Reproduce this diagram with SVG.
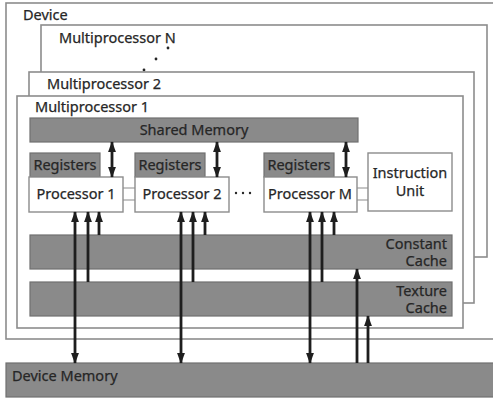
<svg xmlns="http://www.w3.org/2000/svg" width="493" height="399" viewBox="0 0 493 399">
  <style>
    .frame { fill: #ffffff; stroke: #8c8c8c; stroke-width: 1.6; }
    .box { fill: #ffffff; stroke: #8c8c8c; stroke-width: 1.4; }
    .mem { fill: #8a8a8a; stroke: #707070; stroke-width: 1.2; }
    .lbl { font-family: "Noto Sans", "DejaVu Sans", sans-serif; font-size: 14.5px; fill: #262626; stroke: #262626; stroke-width: 0.25; }
    .wire { stroke: #1e1e1e; stroke-width: 2.8; fill: none; }
    .link { stroke: #8c8c8c; stroke-width: 1.2; fill: none; }
  </style>
  <defs>
    <marker id="head" markerWidth="11" markerHeight="15" refX="14" refY="5.5" orient="auto-start-reverse" markerUnits="userSpaceOnUse" viewBox="0 0 15 11">
      <path d="M0,0 L15,5.5 L0,11 z" fill="#1e1e1e"/>
    </marker>
  </defs>

  <rect width="493" height="399" fill="#ffffff"/>

  <!-- device frame -->
  <g id="device">
    <rect class="frame" x="6" y="3" width="495" height="336"/>
    <text class="lbl" x="23" y="20">Device</text>
  </g>

  <!-- stacked multiprocessors -->
  <g id="mp-n">
    <rect class="frame" x="41" y="25" width="446" height="232"/>
    <text class="lbl" x="59" y="43">Multiprocessor N</text>
    <circle cx="168" cy="48" r="1.4" fill="#262626"/>
    <circle cx="156" cy="59" r="1.4" fill="#262626"/>
    <circle cx="144" cy="70" r="1.4" fill="#262626"/>
  </g>
  <g id="mp-2">
    <rect class="frame" x="29" y="72" width="445" height="231"/>
    <text class="lbl" x="47" y="89">Multiprocessor 2</text>
  </g>
  <g id="mp-1">
    <rect class="frame" x="17" y="96" width="446" height="232"/>
    <text class="lbl" x="35" y="112">Multiprocessor 1</text>
  </g>

  <g id="shared-memory">
    <rect class="mem" x="30" y="118" width="328" height="24"/>
    <text class="lbl" x="194" y="135" text-anchor="middle">Shared Memory</text>
  </g>

  <g id="registers-1">
    <rect class="mem" x="30" y="153" width="70" height="24"/>
    <text class="lbl" x="65" y="170" text-anchor="middle">Registers</text>
  </g>
  <g id="processor-1">
    <rect class="box" x="29" y="177" width="94" height="35"/>
    <text class="lbl" x="76" y="199" text-anchor="middle">Processor 1</text>
  </g>

  <g id="registers-2">
    <rect class="mem" x="135" y="153" width="70" height="24"/>
    <text class="lbl" x="170" y="170" text-anchor="middle">Registers</text>
  </g>
  <g id="processor-2">
    <rect class="box" x="135" y="177" width="94" height="35"/>
    <text class="lbl" x="182" y="199" text-anchor="middle">Processor 2</text>
  </g>

  <g id="registers-m">
    <rect class="mem" x="264" y="153" width="70" height="24"/>
    <text class="lbl" x="299" y="170" text-anchor="middle">Registers</text>
  </g>
  <g id="processor-m">
    <rect class="box" x="264" y="177" width="93" height="35"/>
    <text class="lbl" x="310" y="199" text-anchor="middle">Processor M</text>
  </g>

  <g id="instruction-unit">
    <rect class="box" x="368" y="153" width="84" height="58"/>
    <text class="lbl" x="410" y="178" text-anchor="middle">Instruction</text>
    <text class="lbl" x="410" y="196" text-anchor="middle">Unit</text>
  </g>

  <g id="constant-cache">
    <rect class="mem" x="30" y="235" width="422" height="34"/>
    <text class="lbl" x="447" y="249" text-anchor="end">Constant</text>
    <text class="lbl" x="447" y="266" text-anchor="end">Cache</text>
  </g>

  <g id="texture-cache">
    <rect class="mem" x="30" y="282" width="422" height="34"/>
    <text class="lbl" x="447" y="296" text-anchor="end">Texture</text>
    <text class="lbl" x="447" y="313" text-anchor="end">Cache</text>
  </g>

  <g id="device-memory">
    <rect class="mem" x="6" y="363" width="495" height="34"/>
    <text class="lbl" x="12" y="381">Device Memory</text>
  </g>

  <!-- connectors -->
  <g id="connectors">
    <!-- processor bus links -->
    <path class="link" d="M123,188 H135 M123,200 H135"/>
    <path class="link" d="M357,188 H368 M357,200 H368"/>
    <circle cx="236" cy="193" r="1.2" fill="#262626"/>
    <circle cx="243" cy="193" r="1.2" fill="#262626"/>
    <circle cx="250" cy="193" r="1.2" fill="#262626"/>

    <!-- shared memory <-> processors -->
    <line class="wire" x1="112" y1="142" x2="112" y2="177" marker-start="url(#head)" marker-end="url(#head)"/>
    <line class="wire" x1="217" y1="142" x2="217" y2="177" marker-start="url(#head)" marker-end="url(#head)"/>
    <line class="wire" x1="346" y1="142" x2="346" y2="177" marker-start="url(#head)" marker-end="url(#head)"/>

    <!-- device memory <-> processors -->
    <line class="wire" x1="75" y1="363" x2="75" y2="212" marker-start="url(#head)" marker-end="url(#head)"/>
    <line class="wire" x1="181" y1="363" x2="181" y2="212" marker-start="url(#head)" marker-end="url(#head)"/>
    <line class="wire" x1="310" y1="363" x2="310" y2="212" marker-start="url(#head)" marker-end="url(#head)"/>

    <!-- texture cache -> processors -->
    <line class="wire" x1="88" y1="282" x2="88" y2="212" marker-end="url(#head)"/>
    <line class="wire" x1="193" y1="282" x2="193" y2="212" marker-end="url(#head)"/>
    <line class="wire" x1="322" y1="282" x2="322" y2="212" marker-end="url(#head)"/>

    <!-- constant cache -> processors -->
    <line class="wire" x1="99" y1="235" x2="99" y2="212" marker-end="url(#head)"/>
    <line class="wire" x1="205" y1="235" x2="205" y2="212" marker-end="url(#head)"/>
    <line class="wire" x1="334" y1="235" x2="334" y2="212" marker-end="url(#head)"/>

    <!-- device memory -> caches -->
    <line class="wire" x1="357" y1="363" x2="357" y2="269" marker-end="url(#head)"/>
    <line class="wire" x1="368" y1="363" x2="368" y2="316" marker-end="url(#head)"/>
  </g>
</svg>
